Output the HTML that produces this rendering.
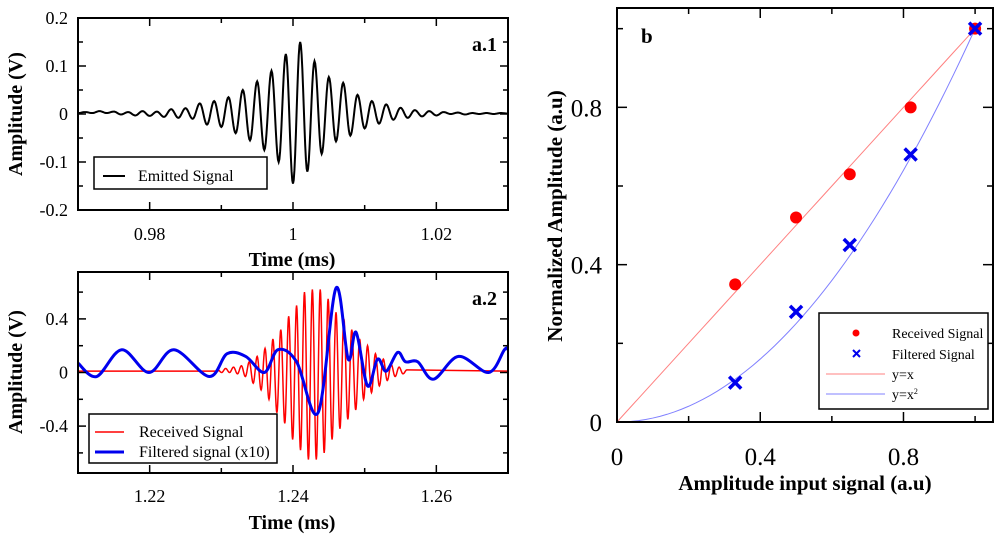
<!DOCTYPE html>
<html><head><meta charset="utf-8"><style>
body{margin:0;background:#fff;}
svg{display:block;font-family:"Liberation Serif",serif;}
</style></head><body>
<svg id="chart" width="1000" height="538" viewBox="0 0 1000 538"></svg>
<script>
// ---- data ----
const emitT0 = 0.970, emitStep = 0.001;
const emitExtrema = [0.002,0.004,0.002,0.006,0.002,0.005,-0.001,0.004,-0.003,0.006,-0.004,0.005,-0.006,0.01,-0.008,0.012,-0.01,0.022,-0.022,0.027,-0.027,0.035,-0.04,0.05,-0.055,0.068,-0.075,0.09,-0.1,0.125,-0.145,0.15,-0.12,0.11,-0.083,0.077,-0.057,0.065,-0.045,0.04,-0.03,0.027,-0.02,0.02,-0.012,0.013,-0.008,0.008,-0.005,0.006,-0.003,0.004,0.0,0.003,-0.001,0.002,0,0.002,0,0.002,0.001];
const recvT0 = 1.2295, recvStep = 0.00055;
const recvExtrema = [0.02,0.0,0.03,0.0,0.04,-0.01,0.05,-0.03,0.08,-0.08,0.12,-0.13,0.18,-0.2,0.25,-0.3,0.32,-0.38,0.42,-0.5,0.5,-0.58,0.6,-0.65,0.62,-0.65,0.62,-0.6,0.55,-0.5,0.45,-0.42,0.4,-0.35,0.32,-0.28,0.25,-0.2,0.2,-0.15,0.14,-0.1,0.1,-0.06,0.06,-0.03,0.04,-0.01,0.02];
const recvBaseline = 0.01;
const filtT = [1.210,1.2126,1.2161,1.2199,1.2234,1.2283,1.2308,1.2334,1.2360,1.2379,1.2405,1.2435,1.2460,1.2477,1.2488,1.2504,1.2518,1.2530,1.2546,1.2557,1.2574,1.2596,1.2631,1.2673,1.2695,1.270];
const filtV = [0.07,-0.03,0.17,0.0,0.17,-0.03,0.14,0.12,0.0,0.17,0.08,-0.3,0.63,0.1,0.3,-0.1,0.1,0.01,0.15,0.08,0.08,-0.05,0.12,0.0,0.17,0.17];
const bX = [0.33,0.5,0.65,0.82,1.0];
const bReceived = [0.35,0.52,0.63,0.80,1.0];
const bFiltered = [0.10,0.28,0.45,0.68,1.0];
const a1XTicks = ["0.98","1","1.02"], a1YTicks = ["0.2","0.1","0","-0.1","-0.2"];
const a2XTicks = ["1.22","1.24","1.26"], a2YTicks = ["0.4","0","-0.4"];
const bTicks = ["0","0.4","0.8"];

const NS="http://www.w3.org/2000/svg", svg=document.getElementById('chart');
function el(tag,attrs,parent,text){const e=document.createElementNS(NS,tag);for(const k in attrs)e.setAttribute(k,attrs[k]);if(text!==undefined)e.textContent=text;(parent||svg).appendChild(e);return e;}
function lin(d0,d1,r0,r1){return v=>r0+(v-d0)*(r1-r0)/(d1-d0);}
function cosPath(t0,step,vals,sx,sy){let p=[];for(let i=0;i<vals.length-1;i++){for(let k=0;k<10;k++){const s=k/10;const v=vals[i]+(vals[i+1]-vals[i])*(1-Math.cos(Math.PI*s))/2;p.push(sx(t0+(i+s)*step).toFixed(2)+','+sy(v).toFixed(2));}}p.push(sx(t0+(vals.length-1)*step).toFixed(2)+','+sy(vals[vals.length-1]).toFixed(2));return 'M'+p.join('L');}
function crPath(ts,vs,sx,sy){const P=ts.map((t,i)=>[sx(t),sy(vs[i])]);let d='M'+P[0][0]+','+P[0][1];for(let i=0;i<P.length-1;i++){const p0=P[Math.max(0,i-1)],p1=P[i],p2=P[i+1],p3=P[Math.min(P.length-1,i+2)];const c1=[p1[0]+(p2[0]-p0[0])/6,p1[1]+(p2[1]-p0[1])/6],c2=[p2[0]-(p3[0]-p1[0])/6,p2[1]-(p3[1]-p1[1])/6];d+='C'+c1+' '+c2+' '+p2;}return d;}
function frame(g,x0,y0,x1,y1,name){const r=el('rect',{x:x0,y:y0,width:x1-x0,height:y1-y0,fill:'none',stroke:'#000','stroke-width':2},g);}
function tick(g,x1,y1,x2,y2){el('line',{x1,y1,x2,y2,stroke:'#000','stroke-width':1.5},g);}

// ---- panel a.1 ----
(function(){
 const g=el('g',{});  
 const X0=78,X1=508,Y0=18,Y1=210; const sx=lin(0.97,1.03,X0,X1), sy=lin(-0.2,0.2,Y1,Y0);
 const cp=el('clipPath',{id:'c1'},g); el('rect',{x:X0,y:Y0,width:X1-X0,height:Y1-Y0},cp);
 const line=el('path',{d:cosPath(emitT0,emitStep,emitExtrema,sx,sy),fill:'none',stroke:'#000','stroke-width':2,'clip-path':'url(#c1)'},g);
  
 frame(g,X0,Y0,X1,Y1,'plot-frame-a1');
 for(let v=0.97;v<=1.0301;v+=0.01){const x=sx(v),L=Math.abs(Math.round(v*100)%2)==0?8:5;tick(g,x,Y1,x,Y1-L);tick(g,x,Y0,x,Y0+L);}
 for(let i=-4;i<=4;i++){const y=sy(i*0.05),L=i%2==0?8:5;tick(g,X0,y,X0+L,y);tick(g,X1,y,X1-L,y);}
 [0.98,1,1.02].forEach((v,i)=>{const t=el('text',{x:sx(v),y:240,'text-anchor':'middle','font-size':18},g,a1XTicks[i]);});
 [0.2,0.1,0,-0.1,-0.2].forEach((v,i)=>{const t=el('text',{x:68,y:sy(v)+6,'text-anchor':'end','font-size':18},g,a1YTicks[i]);});
 const xt=el('text',{x:292,y:266,'text-anchor':'middle','font-size':20,'font-weight':'bold'},g,'Time (ms)');
 const yt=el('text',{x:0,y:0,transform:'translate(22,114) rotate(-90)','text-anchor':'middle','font-size':20,'font-weight':'bold'},g,'Amplitude (V)');
 const lb=el('text',{x:497,y:51,'text-anchor':'end','font-size':20,'font-weight':'bold'},g,'a.1');
 const lg=el('g',{},g);
 el('rect',{x:94,y:157,width:173,height:32,fill:'#fff',stroke:'#000','stroke-width':1.5},lg);
 el('line',{x1:103,y1:176,x2:125,y2:176,stroke:'#000','stroke-width':2},lg);
 el('text',{x:138,y:181,'font-size':16},lg,'Emitted Signal');
})();

// ---- panel a.2 ----
(function(){
 const g=el('g',{});  
 const X0=78,X1=508,Y0=272,Y1=473; const sx=lin(1.21,1.27,X0,X1), sy=lin(-0.75,0.75,Y1,Y0);
 const cp=el('clipPath',{id:'c2'},g); el('rect',{x:X0,y:Y0,width:X1-X0,height:Y1-Y0},cp);
 let d='M'+sx(1.21)+','+sy(recvBaseline)+'L'+sx(recvT0)+','+sy(recvBaseline)+cosPath(recvT0,recvStep,recvExtrema,sx,sy).replace('M','L')+'L'+sx(1.27)+','+sy(recvBaseline);
 const r=el('path',{d,fill:'none',stroke:'#f00','stroke-width':1.5,'clip-path':'url(#c2)'},g);
 const f=el('path',{d:crPath(filtT,filtV,sx,sy),fill:'none',stroke:'#0000ee','stroke-width':3,'clip-path':'url(#c2)'},g);
 frame(g,X0,Y0,X1,Y1,'plot-frame-a2');
 for(let i=0;i<=6;i++){const x=sx(1.21+i*0.01),L=i%2==1?8:5;tick(g,x,Y1,x,Y1-L);tick(g,x,Y0,x,Y0+L);}
 for(let i=-3;i<=3;i++){const y=sy(i*0.2),L=i%2==0?8:5;tick(g,X0,y,X0+L,y);tick(g,X1,y,X1-L,y);}
 [1.22,1.24,1.26].forEach((v,i)=>{const t=el('text',{x:sx(v),y:502,'text-anchor':'middle','font-size':18},g,a2XTicks[i]);});
 [0.4,0,-0.4].forEach((v,i)=>{const t=el('text',{x:68,y:sy(v)+6,'text-anchor':'end','font-size':18},g,a2YTicks[i]);});
 const xt=el('text',{x:292,y:529,'text-anchor':'middle','font-size':20,'font-weight':'bold'},g,'Time (ms)');
 const yt=el('text',{x:0,y:0,transform:'translate(22,372) rotate(-90)','text-anchor':'middle','font-size':20,'font-weight':'bold'},g,'Amplitude (V)');
 const lb=el('text',{x:497,y:305,'text-anchor':'end','font-size':20,'font-weight':'bold'},g,'a.2');
 const lg=el('g',{},g);
 el('rect',{x:89,y:414,width:188,height:49,fill:'#fff',stroke:'#000','stroke-width':1.5},lg);
 el('line',{x1:95,y1:432,x2:124,y2:432,stroke:'#f00','stroke-width':1.5},lg);
 el('text',{x:139,y:437,'font-size':16},lg,'Received Signal');
 el('line',{x1:95,y1:452,x2:124,y2:452,stroke:'#0000ee','stroke-width':3},lg);
 el('text',{x:139,y:457,'font-size':16},lg,'Filtered signal (x10)');
})();

// ---- panel b ----
(function(){
 const g=el('g',{});  
 const X0=617,X1=993,Y0=8,Y1=422; const sx=lin(0,1.05,X0,X0+376), sy=lin(0,1.05,Y1,Y1-413);
 let d1='',d2='';for(let i=0;i<=50;i++){const x=i/50;d1+=(i?'L':'M')+sx(x)+','+sy(x);d2+=(i?'L':'M')+sx(x)+','+sy(x*x);}
 const l1=el('path',{d:d1,fill:'none',stroke:'#ff8080','stroke-width':1},g);
 const l2=el('path',{d:d2,fill:'none',stroke:'#8080ff','stroke-width':1},g);
 bX.forEach((x,i)=>{const c=el('circle',{cx:sx(x),cy:sy(bReceived[i]),r:6,fill:'#f00'},g);});
 bX.forEach((x,i)=>{const cx=sx(x),cy=sy(bFiltered[i]),s=6;const p=el('path',{d:`M${cx-s},${cy-s}L${cx+s},${cy+s}M${cx-s},${cy+s}L${cx+s},${cy-s}`,stroke:'#0000ee','stroke-width':3.5},g);});
 frame(g,X0,Y0,X1,Y1,'plot-frame-b');
 for(let i=0;i<=5;i++){const v=i*0.2,x=sx(v),y=sy(v),L=i%2==0?10:6;tick(g,x,Y1,x,Y1-L);tick(g,x,Y0,x,Y0+L);tick(g,X0,y,X0+L,y);tick(g,X1,y,X1-L,y);}
 [0,0.4,0.8].forEach((v,i)=>{const t=el('text',{x:sx(v),y:465,'text-anchor':'middle','font-size':25},g,bTicks[i]);
  const u=el('text',{x:602,y:sy(v)+9,'text-anchor':'end','font-size':25},g,bTicks[i]);});
 const xt=el('text',{x:805,y:490,'text-anchor':'middle','font-size':21,'font-weight':'bold'},g,'Amplitude input signal (a.u)');
 const yt=el('text',{x:0,y:0,transform:'translate(562,216) rotate(-90)','text-anchor':'middle','font-size':21,'font-weight':'bold'},g,'Normalized Amplitude (a.u)');
 const lb=el('text',{x:641,y:43,'font-size':21,'font-weight':'bold'},g,'b');
 const lg=el('g',{},g);
 el('rect',{x:819,y:313,width:169,height:96,fill:'#fff',stroke:'#000','stroke-width':1.5},lg);
 el('circle',{cx:856,cy:333,r:3.5,fill:'#f00'},lg);
 el('text',{x:892,y:338,'font-size':14},lg,'Received Signal');
 el('path',{d:'M853,350L860,357M853,357L860,350',stroke:'#0000ee','stroke-width':2},lg);
 el('text',{x:892,y:359,'font-size':14},lg,'Filtered Signal');
 el('line',{x1:826,y1:374,x2:885,y2:374,stroke:'#ff8080','stroke-width':1},lg);
 el('text',{x:892,y:379,'font-size':14},lg,'y=x');
 el('line',{x1:826,y1:394,x2:885,y2:394,stroke:'#8080ff','stroke-width':1},lg);
 const t=el('text',{x:892,y:399,'font-size':14},lg,'y=x');el('tspan',{'font-size':8,dy:-5},t,'2');
})();
</script>
</body></html>
